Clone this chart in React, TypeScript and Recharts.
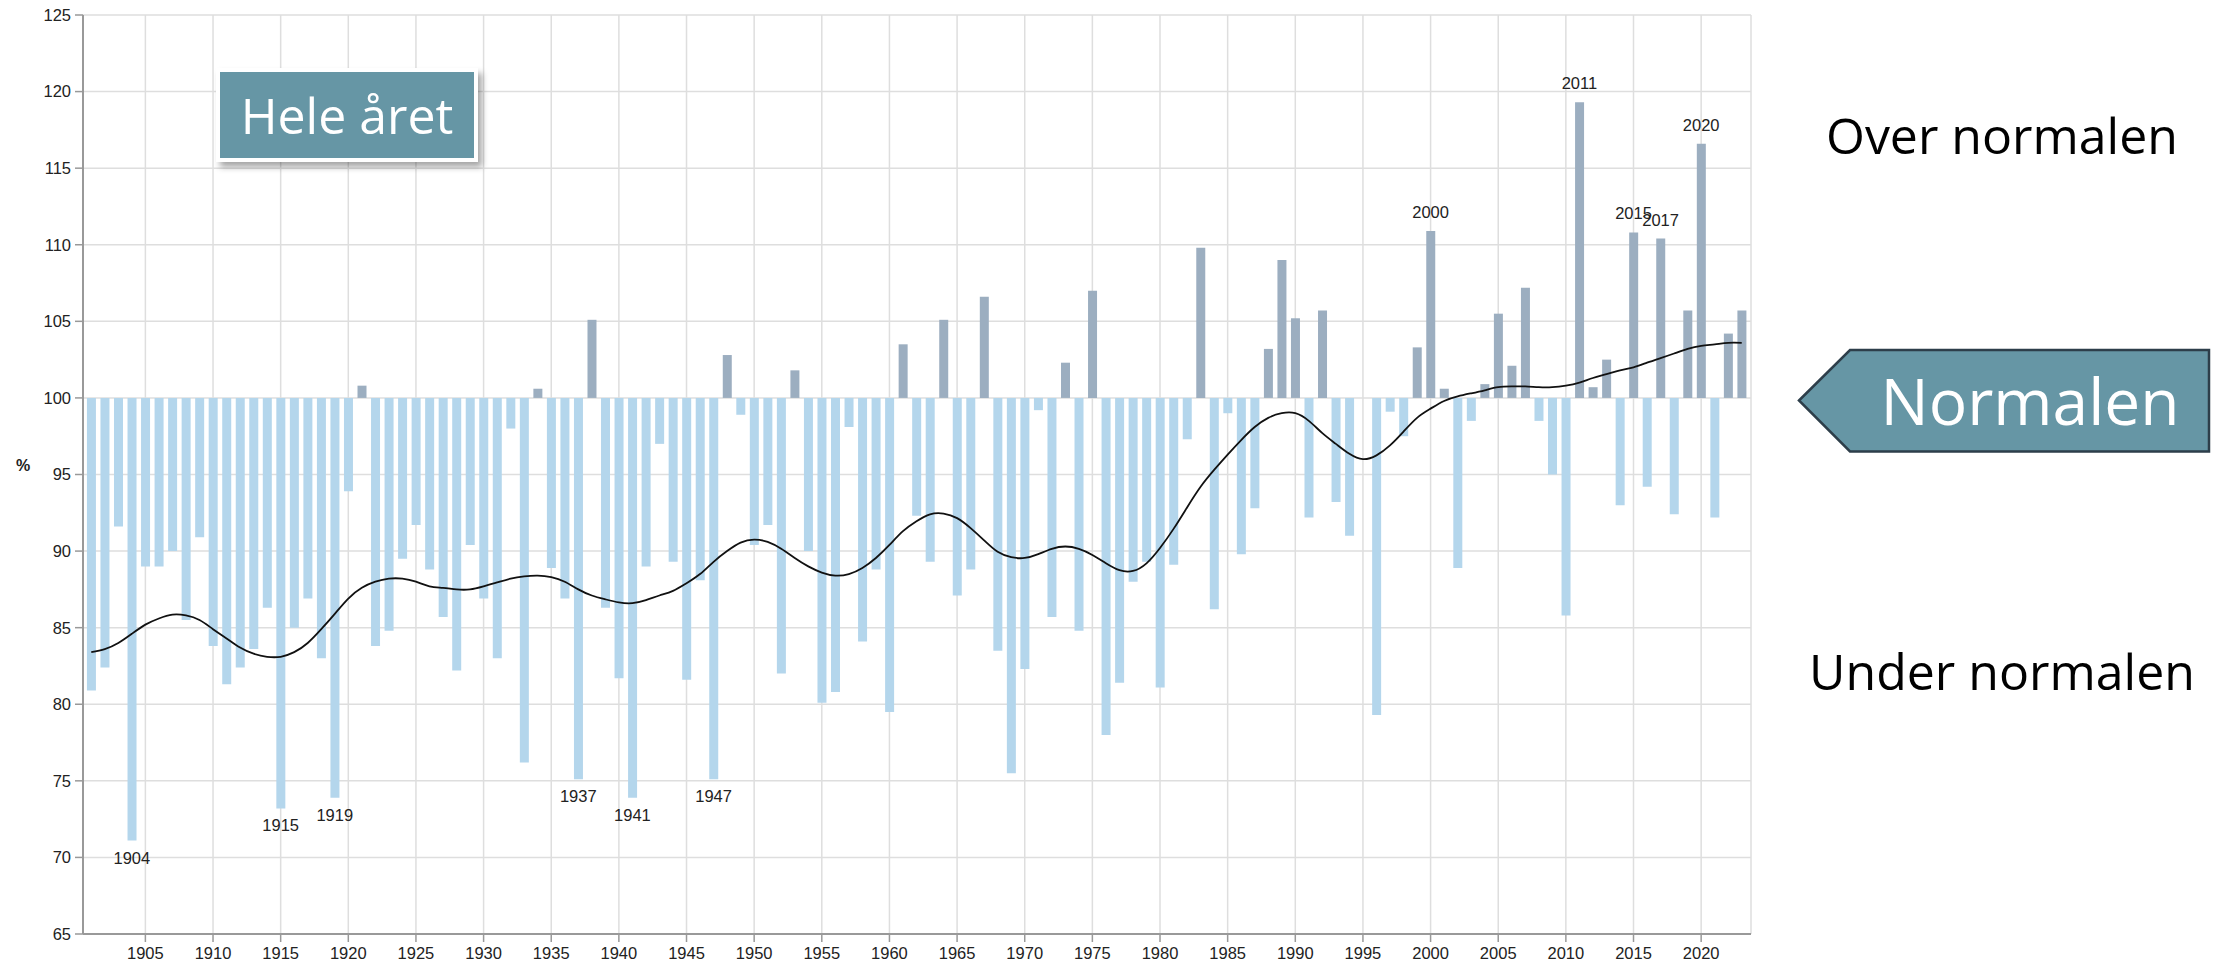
import { ComposedChart, Bar, Line, XAxis, YAxis, CartesianGrid, Cell } from "recharts"

// Nedbør hele året, prosent av normalen, 1901–2023
const years = Array.from({ length: 123 }, (_, i) => 1901 + i)

const precip = [
  80.9, 82.4, 91.6, 71.1, 89.0, 89.0, 90.0, 85.5, 90.9, 83.8,
  81.3, 82.4, 83.6, 86.3, 73.2, 85.0, 86.9, 83.0, 73.9, 93.9,
  100.8, 83.8, 84.8, 89.5, 91.7, 88.8, 85.7, 82.2, 90.4, 86.9,
  83.0, 98.0, 76.2, 100.6, 88.9, 86.9, 75.1, 105.1, 86.3, 81.7,
  73.9, 89.0, 97.0, 89.3, 81.6, 88.1, 75.1, 102.8, 98.9, 90.4,
  91.7, 82.0, 101.8, 90.0, 80.1, 80.8, 98.1, 84.1, 88.8, 79.5,
  103.5, 92.3, 89.3, 105.1, 87.1, 88.8, 106.6, 83.5, 75.5, 82.3,
  99.2, 85.7, 102.3, 84.8, 107.0, 78.0, 81.4, 88.0, 89.3, 81.1,
  89.1, 97.3, 109.8, 86.2, 99.0, 89.8, 92.8, 103.2, 109.0, 105.2,
  92.2, 105.7, 93.2, 91.0, 100.0, 79.3, 99.1, 97.5, 103.3, 110.9,
  100.6, 88.9, 98.5, 100.9, 105.5, 102.1, 107.2, 98.5, 95.0, 85.8,
  119.3, 100.7, 102.5, 93.0, 110.8, 94.2, 110.4, 92.4, 105.7, 116.6,
  92.2, 104.2, 105.7,
]

const trend = [
  83.4, 83.6, 84.0, 84.6, 85.2, 85.6, 85.85, 85.8, 85.5, 84.9,
  84.3, 83.7, 83.3, 83.1, 83.1, 83.4, 84.0, 84.9, 85.9, 86.9,
  87.6, 88.0, 88.2, 88.2, 88.0, 87.7, 87.6, 87.5, 87.5, 87.7,
  87.95, 88.2, 88.35, 88.4, 88.3, 88.0, 87.5, 87.1, 86.85, 86.65,
  86.6, 86.8, 87.1, 87.4, 87.9, 88.5, 89.3, 90.0, 90.55, 90.75,
  90.6, 90.15, 89.55, 89.0, 88.6, 88.4, 88.5, 88.9, 89.55, 90.4,
  91.3, 91.95, 92.4, 92.45, 92.15, 91.5, 90.7, 89.95, 89.6, 89.55,
  89.8, 90.15, 90.3, 90.15, 89.75, 89.2, 88.75, 88.7, 89.2, 90.2,
  91.45, 92.85, 94.2, 95.3, 96.3, 97.25, 98.1, 98.7, 99.0, 99.0,
  98.5, 97.7, 97.0, 96.35, 96.0, 96.25, 96.9, 97.8, 98.7, 99.3,
  99.8, 100.1, 100.3, 100.5, 100.7, 100.75, 100.75, 100.7, 100.7, 100.8,
  101.0, 101.3, 101.55, 101.8, 102.0, 102.3, 102.6, 102.9, 103.2, 103.4,
  103.5, 103.6, 103.6,
]

const markedYears = [1904, 1915, 1919, 1937, 1941, 1947, 2000, 2011, 2015, 2017, 2020]
const yTicks = [65, 70, 75, 80, 85, 90, 95, 100, 105, 110, 115, 120, 125]
const xTicks = [1905, 1910, 1915, 1920, 1925, 1930, 1935, 1940, 1945, 1950, 1955, 1960,
  1965, 1970, 1975, 1980, 1985, 1990, 1995, 2000, 2005, 2010, 2015, 2020]

const data = years.map((year, i) => ({
  year,
  value: precip[i],
  range: [100, precip[i]],
  trend: trend[i],
}))

const BLUE = "#b4d6ec"
const GRAY = "#9caec0"
const AXIS = "#999999"
const GRID = "#dedede"
const FONT = "'Liberation Sans', Arial, sans-serif"
const BOX = "#6696a5"

function YearMark(props: any) {
  const { cx, cy, payload, index } = props
  if (!markedYears.includes(payload.year)) return <g key={`m-${index}`} />
  const below = payload.value < 100
  return (
    <text
      key={`m-${index}`}
      x={cx}
      y={below ? cy + 23 : cy - 13}
      textAnchor="middle"
      fontSize={16.5}
      fontFamily={FONT}
      fill="#222"
    >
      {payload.year}
    </text>
  )
}

export default function App() {
  const tickStyle = { fontSize: 16.5, fontFamily: FONT, fill: "#222" }
  return (
    <div style={{ position: "absolute", left: 0, top: 0, width: 2226, height: 966, background: "#fff" }}>
      <ComposedChart
        width={1770}
        height={966}
        data={data}
        margin={{ top: 15, right: 19, bottom: 0, left: 0 }}
        barCategoryGap="18%"
      >
        <CartesianGrid stroke={GRID} strokeWidth={1.5} />
        <XAxis
          dataKey="year"
          ticks={xTicks}
          interval={0}
          height={32}
          padding={{ left: 1.5, right: 2.5 }}
          tickSize={8}
          tickMargin={5}
          tick={tickStyle}
          axisLine={{ stroke: AXIS, strokeWidth: 2 }}
          tickLine={{ stroke: AXIS, strokeWidth: 1.5 }}
        />
        <YAxis
          type="number"
          domain={[65, 125]}
          ticks={yTicks}
          interval={0}
          width={83}
          tickSize={8}
          tickMargin={4}
          tick={tickStyle}
          axisLine={{ stroke: AXIS, strokeWidth: 2 }}
          tickLine={{ stroke: AXIS, strokeWidth: 1.5 }}
          label={{
            value: "%",
            position: "insideLeft",
            offset: 16,
            dy: -9,
            style: { fontSize: 16, fontWeight: "bold", fontFamily: FONT, fill: "#222" },
          }}
        />
        <YAxis
          yAxisId="right"
          orientation="right"
          type="number"
          domain={[65, 125]}
          width={0}
          tick={false}
          tickLine={false}
          axisLine={{ stroke: GRID, strokeWidth: 1.5 }}
        />
        <Bar dataKey="range" isAnimationActive={false}>
          {data.map((d) => (
            <Cell key={d.year} fill={d.value >= 100 ? GRAY : BLUE} />
          ))}
        </Bar>
        <Line
          dataKey="trend"
          type="natural"
          stroke="#111"
          strokeWidth={1.8}
          dot={false}
          activeDot={false}
          isAnimationActive={false}
        />
        <Line
          dataKey="value"
          stroke="none"
          dot={YearMark}
          activeDot={false}
          legendType="none"
          isAnimationActive={false}
        />
      </ComposedChart>

      <svg
        width={2226}
        height={966}
        style={{ position: "absolute", left: 0, top: 0, pointerEvents: "none" }}
      >
        <defs>
          <filter id="shadow" x="-10%" y="-20%" width="130%" height="150%">
            <feDropShadow dx="4" dy="5" stdDeviation="3" floodColor="#000" floodOpacity="0.35" />
          </filter>
        </defs>
        <rect x={218} y={70} width={258} height={90} fill={BOX} stroke="#fff" strokeWidth={4} filter="url(#shadow)" />
        <text x={347} y={134} textAnchor="middle" fontSize={50} fontFamily="'Open Sans', sans-serif" fill="#fff">
          Hele året
        </text>

        <text x={2002} y={154} textAnchor="middle" fontSize={50} fontFamily="'Open Sans', sans-serif" fill="#000">
          Over normalen
        </text>

        <polygon
          points="1799,400.5 1850,350 2209,350 2209,451.5 1850,451.5"
          fill={BOX}
          stroke="#2d3e4a"
          strokeWidth={2.5}
        />
        <text x={2030} y={425} textAnchor="middle" fontSize={64} fontFamily="'Open Sans', sans-serif" fill="#fff">
          Normalen
        </text>

        <text x={2002} y={690} textAnchor="middle" fontSize={50} fontFamily="'Open Sans', sans-serif" fill="#000">
          Under normalen
        </text>
      </svg>
    </div>
  )
}
